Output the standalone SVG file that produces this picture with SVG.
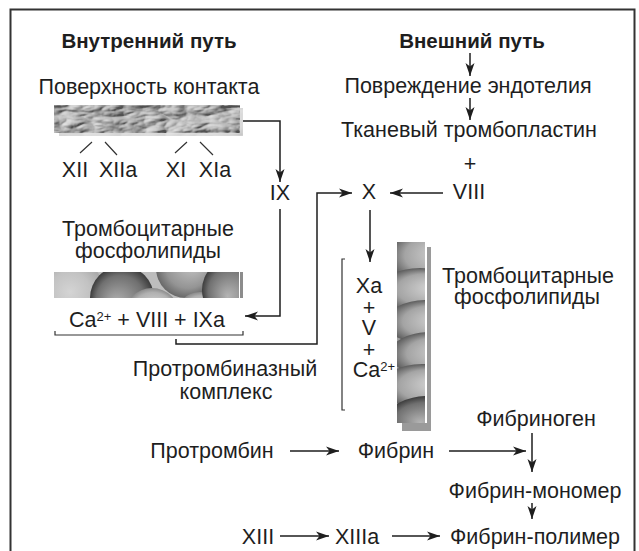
<svg xmlns="http://www.w3.org/2000/svg" width="639" height="551" viewBox="0 0 639 551">
  <style>
    .t { font-family: "Liberation Sans", Arial, sans-serif; font-size: 21.5px; fill: #1e1e1e; }
    .b { font-weight: bold; font-size: 20.5px; }
    .m { text-anchor: middle; }
    .sup { font-size: 13px; }
    .arr { fill: none; stroke: #1e1e1e; stroke-width: 1.5; marker-end: url(#ah); }
    .br { fill: none; stroke: #333; stroke-width: 1.2; }
  </style>
  <defs>
    <marker id="ah" markerUnits="userSpaceOnUse" markerWidth="14" markerHeight="10" refX="13" refY="5" orient="auto">
      <path d="M0,0.5 L13,5 L0,9.5 L3.5,5 Z" fill="#1e1e1e"/>
    </marker>
    <!-- crumpled relief for the contact surface -->
    <filter id="crumple" x="0" y="0" width="1" height="1" filterUnits="objectBoundingBox">
      <feTurbulence type="turbulence" baseFrequency="0.012 0.03" numOctaves="4" seed="11" result="n"/>
      <feDiffuseLighting in="n" surfaceScale="9" lighting-color="#ffffff" result="l">
        <feDistantLight azimuth="210" elevation="28"/>
      </feDiffuseLighting>
      <feColorMatrix in="l" type="matrix" values="0.75 0 0 0 0.08  0.75 0 0 0 0.08  0.75 0 0 0 0.08  0 0 0 1 0"/>
    </filter>
    <filter id="crumple2" x="0" y="0" width="1" height="1" filterUnits="objectBoundingBox">
      <feTurbulence type="turbulence" baseFrequency="0.012 0.03" numOctaves="3" seed="4" result="n"/>
      <feDiffuseLighting in="n" surfaceScale="4" lighting-color="#ffffff" result="l">
        <feDistantLight azimuth="210" elevation="50"/>
      </feDiffuseLighting>
      <feColorMatrix in="l" type="matrix" values="0.4 0 0 0 0.4  0.4 0 0 0 0.4  0.4 0 0 0 0.4  0 0 0 1 0"/>
    </filter>
    <radialGradient id="sph" cx="0.5" cy="0.5" r="0.5" fx="0.65" fy="0.35">
      <stop offset="0" stop-color="#cfcfcf"/>
      <stop offset="0.75" stop-color="#949494"/>
      <stop offset="1" stop-color="#686868"/>
    </radialGradient>
    <radialGradient id="sphL" cx="0.5" cy="0.5" r="0.5" fx="0.6" fy="0.4">
      <stop offset="0" stop-color="#e2e2e2"/>
      <stop offset="0.8" stop-color="#b0b0b0"/>
      <stop offset="1" stop-color="#8a8a8a"/>
    </radialGradient>
    <radialGradient id="sphD" cx="0.5" cy="0.5" r="0.5" fx="0.4" fy="0.6">
      <stop offset="0" stop-color="#b4b4b4"/>
      <stop offset="0.75" stop-color="#707070"/>
      <stop offset="1" stop-color="#3c3c3c"/>
    </radialGradient>
    <radialGradient id="ring" cx="0.5" cy="0.5" r="0.5">
      <stop offset="0" stop-color="#d4d4d4"/>
      <stop offset="0.6" stop-color="#c2c2c2"/>
      <stop offset="1" stop-color="#a8a8a8"/>
    </radialGradient>
    <!-- soft band for the vertical membrane strip -->
    <radialGradient id="band" cx="0.5" cy="0.5" r="0.5" fx="0.7" fy="0.45">
      <stop offset="0" stop-color="#dadada"/>
      <stop offset="0.7" stop-color="#a4a4a4"/>
      <stop offset="1" stop-color="#5c5c5c"/>
    </radialGradient>
    <clipPath id="clipH"><rect x="54" y="272" width="185" height="26"/></clipPath>
    <clipPath id="clipV"><rect x="397" y="242" width="28" height="181"/></clipPath>
  </defs>

  <!-- frame -->
  <path d="M10.5,551 V9.5 H634.5 V551" fill="none" stroke="#333" stroke-width="2"/>

  <!-- intrinsic pathway -->
  <g id="intrinsic-title"><text class="t b m" x="149" y="48">Внутренний путь</text></g>
  <g id="contact-surface">
    <text class="t m" x="149" y="94">Поверхность контакта</text>
    <rect x="59" y="108" width="184" height="28" fill="#bbb" filter="url(#crumple2)"/>
    <rect x="54" y="105" width="186" height="28" fill="#999" filter="url(#crumple)"/>
  </g>
  <g id="factors-xii-xi">
    <path class="br" d="M80,153 L92,142 M105,142 L117,155 M175,153 L187,142 M200,142 L213,155"/>
    <text class="t m" x="75" y="177">XII</text>
    <text class="t m" x="118" y="177">XIIa</text>
    <text class="t m" x="176" y="177">XI</text>
    <text class="t m" x="215" y="177">XIa</text>
  </g>
  <g id="factor-ix"><text class="t m" x="280" y="200">IX</text></g>
  <g id="platelet-phospholipids-left">
    <text class="t m" x="148" y="236">Тромбоцитарные</text>
    <text class="t m" x="148" y="258">фосфолипиды</text>
    <g clip-path="url(#clipH)">
      <rect x="54" y="272" width="185" height="26" fill="#bdbdbd"/>
      <circle cx="70" cy="292" r="34" fill="url(#ring)"/>
      <circle cx="122" cy="298" r="32" fill="url(#sphD)"/>
      <circle cx="152" cy="316" r="28" fill="url(#sphL)"/>
      <circle cx="186" cy="268" r="30" fill="url(#sph)"/>
      <circle cx="200" cy="316" r="24" fill="url(#sphL)"/>
      <circle cx="234" cy="290" r="32" fill="url(#sphD)"/>
    </g>
    <rect x="240" y="272" width="3" height="26" fill="#8c8c8c"/>
  </g>
  <g id="tenase-complex">
    <text class="t m" x="147" y="327">Ca<tspan class="sup" dy="-6">2+</tspan><tspan dy="6"> + VIII + IXa</tspan></text>
    <path class="br" d="M55,331 V335 H243 V331"/>
  </g>
  <g id="prothrombinase-label">
    <text class="t m" x="225" y="376">Протромбиназный</text>
    <text class="t m" x="226" y="399">комплекс</text>
  </g>

  <!-- extrinsic pathway -->
  <g id="extrinsic-title"><text class="t b m" x="472" y="48">Внешний путь</text></g>
  <g id="endothelial-damage"><text class="t m" x="468" y="93">Повреждение эндотелия</text></g>
  <g id="tissue-thromboplastin">
    <text class="t m" x="469" y="137">Тканевый тромбопластин</text>
    <text class="t m" x="470" y="171">+</text>
  </g>
  <g id="factor-viii"><text class="t m" x="469" y="199">VIII</text></g>
  <g id="factor-x"><text class="t m" x="369" y="199">X</text></g>

  <!-- prothrombinase -->
  <g id="prothrombinase">
    <path class="br" d="M345,259 H342 V410 H345"/>
    <text class="t m" x="369" y="293">Xa</text>
    <text class="t m" x="369" y="315">+</text>
    <text class="t m" x="369" y="335">V</text>
    <text class="t m" x="369" y="357">+</text>
    <text class="t m" x="374" y="377">Ca<tspan class="sup" dy="-6">2+</tspan></text>
  </g>
  <g id="platelet-phospholipids-right">
    <rect x="427" y="247" width="4" height="184" fill="#9a9a9a"/>
    <rect x="402" y="423" width="29" height="8" fill="#9a9a9a"/>
    <g clip-path="url(#clipV)">
      <rect x="397" y="242" width="28" height="181" fill="#9c9c9c"/>
      <ellipse cx="428" cy="256" rx="40" ry="26" fill="url(#band)"/>
      <ellipse cx="420" cy="290" rx="40" ry="22" fill="url(#band)"/>
      <ellipse cx="426" cy="322" rx="40" ry="22" fill="url(#band)"/>
      <ellipse cx="430" cy="354" rx="40" ry="22" fill="url(#band)"/>
      <ellipse cx="422" cy="386" rx="40" ry="22" fill="url(#band)"/>
      <ellipse cx="428" cy="418" rx="40" ry="22" fill="url(#sphD)"/>
    </g>
    <text class="t m" x="528" y="283">Тромбоцитарные</text>
    <text class="t m" x="527" y="304">фосфолипиды</text>
  </g>

  <!-- common pathway -->
  <g id="fibrinogen"><text class="t m" x="536" y="426">Фибриноген</text></g>
  <g id="prothrombin"><text class="t m" x="212" y="458">Протромбин</text></g>
  <g id="fibrin"><text class="t m" x="396" y="458">Фибрин</text></g>
  <g id="fibrin-monomer"><text class="t m" x="535" y="498">Фибрин-мономер</text></g>
  <g id="factor-xiii"><text class="t m" x="258" y="544">XIII</text></g>
  <g id="factor-xiiia"><text class="t m" x="357" y="544">XIIIa</text></g>
  <g id="fibrin-polymer"><text class="t m" x="535" y="544">Фибрин-полимер</text></g>

  <!-- connectors -->
  <g id="connectors">
    <path class="arr" d="M470,53 V76"/>
    <path class="arr" d="M470,98 V120"/>
    <path class="arr" d="M243,121 H280 V182"/>
    <path class="arr" d="M280,209 V316 H245"/>
    <path class="arr" d="M176,339 V344 H317 V193 H352"/>
    <path class="arr" d="M443,193 H390"/>
    <path class="arr" d="M370,210 V262"/>
    <path class="arr" d="M290,451 H339"/>
    <path class="arr" d="M449,451 H526"/>
    <path class="arr" d="M532,433 V472"/>
    <path class="arr" d="M532,503 V519"/>
    <path class="arr" d="M280,536 H329"/>
    <path class="arr" d="M392,536 H440"/>
  </g>
</svg>
